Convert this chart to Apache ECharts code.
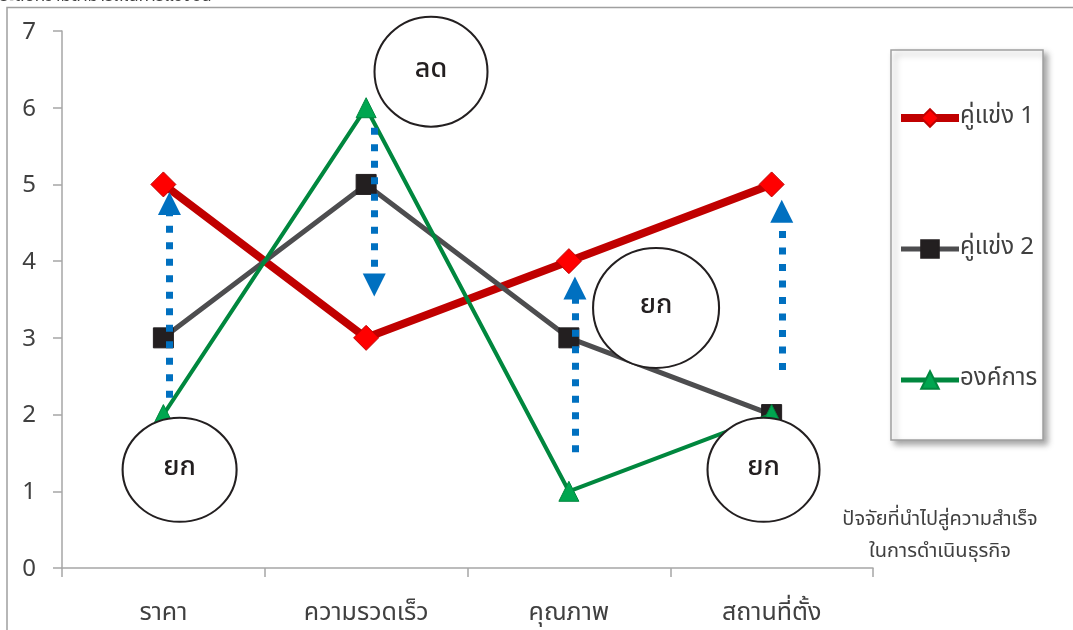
<!DOCTYPE html>
<html>
<head>
<meta charset="utf-8">
<script src="https://cdn.jsdelivr.net/npm/echarts@6/dist/echarts.min.js"></script>
<style>
  html, body { margin: 0; padding: 0; background: #ffffff; }
  #chart { width: 1073px; height: 630px; }
</style>
</head>
<body>
<div id="chart"></div>
<script>
// Success factors compared across the organisation and two competitors
const categories = ['ราคา', 'ความรวดเร็ว', 'คุณภาพ', 'สถานที่ตั้ง'];
const competitor1 = [5, 3, 4, 5];
const competitor2 = [3, 5, 3, 2];
const organisation = [2, 6, 1, 2];
const seriesNames = ['คู่แข่ง 1', 'คู่แข่ง 2', 'องค์การ'];
const yTicks = [0, 1, 2, 3, 4, 5, 6, 7];

// Callouts: [category position, level, text]
const callouts = [
  [0.08, 1.28, 'ยก'],
  [1.32, 6.47, 'ลด'],
  [2.43, 3.39, 'ยก'],
  [2.96, 1.28, 'ยก']
];
const calloutSizes = [[114, 104], [113, 110], [126, 120], [112, 104]];

// Direction arrows: [category position, from level, to level]
const arrows = [
  [0.03, 2.22, 4.75],
  [1.04, 5.74, 3.69],
  [2.03, 1.51, 3.65],
  [3.05, 2.58, 4.65]
];

const FONT = '"Noto Sans Thai", "Tahoma", "Noto Sans", sans-serif';
const axisGray = '#a6a6a6';
const textColor = '#404040';

const chart = echarts.init(document.getElementById('chart'), null, { renderer: 'canvas' });

chart.setOption({
  backgroundColor: '#ffffff',
  animation: false,
  textStyle: { fontFamily: FONT },
  grid: { left: 62, right: 200, top: 31, bottom: 62 },
  xAxis: [
    {
      type: 'category',
      data: categories,
      boundaryGap: true,
      axisLine: { onZero: false, lineStyle: { color: axisGray, width: 1.5 } },
      axisTick: { show: true, length: 9, lineStyle: { color: axisGray, width: 1.5 } },
      axisLabel: { fontSize: 25, color: textColor, margin: 34, fontFamily: FONT },
      splitLine: { show: false }
    },
    {
      type: 'value',
      min: -0.5,
      max: 3.5,
      show: false
    }
  ],
  yAxis: {
    type: 'value',
    min: 0,
    max: 7,
    interval: 1,
    axisLine: { show: true, onZero: false, lineStyle: { color: axisGray, width: 1.5 } },
    axisTick: { show: true, length: 9, lineStyle: { color: axisGray, width: 1.5 } },
    axisLabel: {
      fontSize: 24, color: textColor, margin: 26, fontFamily: FONT,
      verticalAlign: 'top', lineHeight: 6,
      formatter: v => yTicks.includes(v) ? String(v) : ''
    },
    splitLine: { show: false }
  },
  legend: {
    orient: 'vertical',
    left: 897,
    top: 106,
    itemWidth: 58,
    itemHeight: 22,
    itemGap: 107,
    padding: 0,
    data: [
      { name: seriesNames[0], lineStyle: { width: 8, color: '#c00000' } },
      { name: seriesNames[1], lineStyle: { width: 5, color: '#4d4d4f' } },
      { name: seriesNames[2], lineStyle: { width: 5, color: '#00873e' } }
    ],
    textStyle: { fontSize: 24, color: textColor, fontFamily: FONT, padding: [0, 0, 0, -4] }
  },
  graphic: [
    // chart frame
    { type: 'polyline', z: -1, shape: { points: [[7, 640], [7, 7.5], [1080, 7.5]] },
      style: { stroke: '#a0a0a0', lineWidth: 1.5, fill: null } },
    // axis title (partially above the frame)
    { type: 'text', x: 0, y: -10.5,
      style: { text: 'ระดับความสามารถในการแข่งขัน', font: '17px ' + FONT, fill: textColor } },
    // legend box with shadow
    { type: 'rect', z: 0, shape: { x: 891, y: 50, width: 152, height: 390 },
      style: { fill: '#ffffff', stroke: '#a0a0a0', lineWidth: 1.5,
               shadowBlur: 6, shadowOffsetX: 4, shadowOffsetY: 4, shadowColor: 'rgba(0,0,0,0.35)' } },
    // x-axis title
    { type: 'text', x: 940, y: 521,
      style: { text: 'ปัจจัยที่นำไปสู่ความสำเร็จ', font: '20px ' + FONT, fill: textColor,
               align: 'center', verticalAlign: 'middle' } },
    { type: 'text', x: 940, y: 553,
      style: { text: 'ในการดำเนินธุรกิจ', font: '20px ' + FONT, fill: textColor,
               align: 'center', verticalAlign: 'middle' } }
  ],
  series: [
    {
      name: seriesNames[0],
      type: 'line',
      data: competitor1,
      z: 3,
      symbol: 'diamond',
      symbolSize: 25,
      lineStyle: { color: '#c00000', width: 8 },
      itemStyle: { color: '#ff0000', borderColor: '#c00000', borderWidth: 1 }
    },
    {
      name: seriesNames[1],
      type: 'line',
      data: competitor2,
      z: 4,
      symbol: 'rect',
      symbolSize: 20,
      lineStyle: { color: '#4d4d4f', width: 5 },
      itemStyle: { color: '#231f20', borderColor: '#231f20', borderWidth: 1 }
    },
    {
      name: seriesNames[2],
      type: 'line',
      data: organisation,
      z: 5,
      symbol: 'triangle',
      symbolSize: 20,
      lineStyle: { color: '#00873e', width: 4 },
      itemStyle: { color: '#00a650', borderColor: '#00873e', borderWidth: 1 }
    },
    {
      type: 'lines',
      coordinateSystem: 'cartesian2d',
      xAxisIndex: 1,
      yAxisIndex: 0,
      z: 6,
      symbol: ['none', 'triangle'],
      symbolSize: 23,
      lineStyle: { color: '#0070c0', width: 7, type: [7, 9.5], opacity: 1, curveness: 0 },
      itemStyle: { color: '#0070c0' },
      data: arrows.map(a => ({ coords: [[a[0], a[1]], [a[0], a[2]]] }))
    },
    {
      type: 'scatter',
      xAxisIndex: 1,
      yAxisIndex: 0,
      z: 8,
      symbol: 'circle',
      data: callouts.map((c, i) => ({
        value: [c[0], c[1]],
        symbolSize: calloutSizes[i],
        label: { show: true, formatter: c[2] }
      })),
      itemStyle: { color: '#ffffff', borderColor: '#231f20', borderWidth: 2, opacity: 1 },
      label: { show: true, position: 'inside', fontSize: 27, color: '#231f20', fontWeight: 500, fontFamily: FONT },
      emphasis: { disabled: true }
    }
  ]
});
</script>
</body>
</html>
